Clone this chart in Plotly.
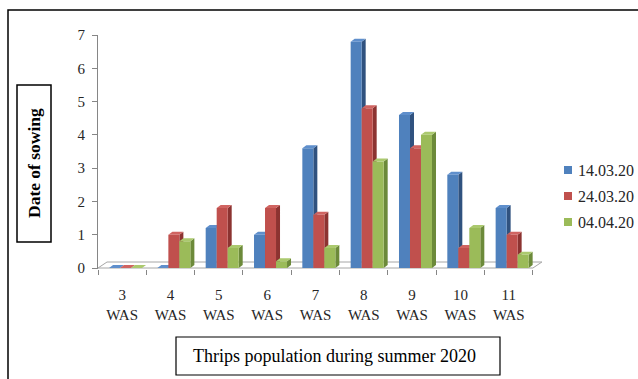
import plotly.graph_objects as go

# ---------------- data ----------------
categories = ["3 WAS", "4 WAS", "5 WAS", "6 WAS", "7 WAS", "8 WAS", "9 WAS", "10 WAS", "11 WAS"]
series_names = ["14.03.20", "24.03.20", "04.04.20"]
sow_14_03 = [0.0, 0.0, 1.2, 1.0, 3.6, 6.8, 4.6, 2.8, 1.8]
sow_24_03 = [0.0, 1.0, 1.8, 1.8, 1.6, 4.8, 3.6, 0.6, 1.0]
sow_04_04 = [0.0, 0.8, 0.6, 0.2, 0.6, 3.2, 4.0, 1.2, 0.4]
y_ticks = [0, 1, 2, 3, 4, 5, 6, 7]
x_title = "Thrips population during summer 2020"
y_title = "Date of sowing"

# ---------------- style ----------------
W, H = 638, 379
ML, MR, MT, MB = 98, 93, 35, 110
FONT = "Liberation Serif"
TXT = "#262626"
AX = "#868686"
front_cols = ["#4F81BD", "#C0504D", "#9BBB59"]
side_cols = ["#30527F", "#8C3331", "#6C8A3A"]
top_cols = ["#5F8FCC", "#D06461", "#ABC96E"]

X0, X1 = -0.5, 8.75
Y0, Y1 = -0.03, 7.0
PW, PH = W - ML - MR, H - MT - MB
ux = PW / (X1 - X0)  # px per category
uy = PH / (Y1 - Y0)  # px per unit

bw = 11 / ux          # bar front width
bdx, bdy = 4 / ux, 3 / uy   # bar depth
fdx, fdy = 9 / ux, 6 / uy   # floor depth
shift = 0.07


def px2paper(px, py):
    return (px - ML) / PW, (H - MB - py) / PH


fig = go.Figure()

# floor
n = len(categories)
fig.add_trace(go.Scatter(
    x=[-0.5, n - 0.5, n - 0.5 + fdx, -0.5 + fdx, -0.5],
    y=[0, 0, fdy, fdy, 0],
    mode="lines", fill="toself", fillcolor="white",
    line=dict(color="#A6A6A6", width=1), hoverinfo="skip", showlegend=False))

all_series = [sow_14_03, sow_24_03, sow_04_04]
for si, vals in enumerate(all_series):
    fx, fy, sx, sy, tx, ty = [], [], [], [], [], []
    for ci, v in enumerate(vals):
        xl = ci - 1.5 * bw + shift + si * bw
        xr = xl + bw
        fx += [xl, xr, xr, xl, xl, None]
        fy += [0, 0, v, v, 0, None]
        sx += [xr, xr + bdx, xr + bdx, xr, xr, None]
        sy += [0, bdy, v + bdy, v, 0, None]
        tx += [xl, xr, xr + bdx, xl + bdx, xl, None]
        ty += [v, v, v + bdy, v + bdy, v, None]
    for xs, ys, col in ((sx, sy, side_cols[si]), (fx, fy, front_cols[si]), (tx, ty, top_cols[si])):
        fig.add_trace(go.Scatter(x=xs, y=ys, mode="lines", fill="toself", fillcolor=col,
                                 line=dict(width=0, color=col), hoverinfo="skip",
                                 showlegend=False))

shapes = []
annotations = []


def rect(px0, py0, px1, py1, **kw):
    a = px2paper(px0, py0)
    b = px2paper(px1, py1)
    shapes.append(dict(type="rect", xref="paper", yref="paper", x0=a[0], y0=b[1], x1=b[0], y1=a[1], **kw))


def label(px, py, text, size, color, xanchor="center", angle=0):
    p = px2paper(px, py)
    annotations.append(dict(xref="paper", yref="paper", x=p[0], y=p[1], text=text,
                            xanchor=xanchor, yanchor="middle", textangle=angle, showarrow=False,
                            font=dict(family=FONT, size=size, color=color)))


# outer border
rect(8, 10, 700, 420, line=dict(color="black", width=1.5))

# y title box
rect(17, 85, 51, 242, line=dict(color="black", width=1.5), fillcolor="white")
label(34, 163, "<b>" + y_title + "</b>", 17.5, "black", angle=-90)

# x title box
rect(176, 337, 500, 375, line=dict(color="black", width=1.2), fillcolor="white")
label(334, 356, x_title, 18, "black")

# legend
for i, name in enumerate(series_names):
    cy = 170 + 26 * i
    rect(564, cy - 4, 572, cy + 4, line=dict(width=0), fillcolor=front_cols[i])
    label(576, cy, name, 16, TXT, xanchor="left")

fig.update_layout(
    width=W, height=H, margin=dict(l=ML, r=MR, t=MT, b=MB),
    paper_bgcolor="white", plot_bgcolor="white", showlegend=False,
    shapes=shapes, annotations=annotations,
    xaxis=dict(range=[X0, X1], tickvals=[i - 0.5 for i in range(n + 1)],
               ticktext=[""] * (n + 1), ticks="outside", ticklen=5, tickcolor=AX,
               showline=False, showgrid=False, zeroline=False, fixedrange=True),
    xaxis2=dict(range=[X0, X1], overlaying="x", side="bottom", anchor="y",
                tickvals=list(range(n)), ticktext=[c.replace(" ", "<br>") for c in categories],
                ticks="", showline=False, showgrid=False, zeroline=False,
                tickfont=dict(family=FONT, size=15, color=TXT), ticklabelstandoff=15),
    yaxis=dict(range=[Y0, Y1], tickvals=y_ticks, ticks="outside", ticklen=5, tickcolor=AX,
               showline=True, linecolor=AX, linewidth=1, showgrid=False, zeroline=False,
               tickfont=dict(family=FONT, size=15, color=TXT), ticklabelstandoff=4),
)
fig.add_trace(go.Scatter(x=[None], y=[None], xaxis="x2", yaxis="y", showlegend=False, hoverinfo="skip"))

fig.write_html("out.html")
